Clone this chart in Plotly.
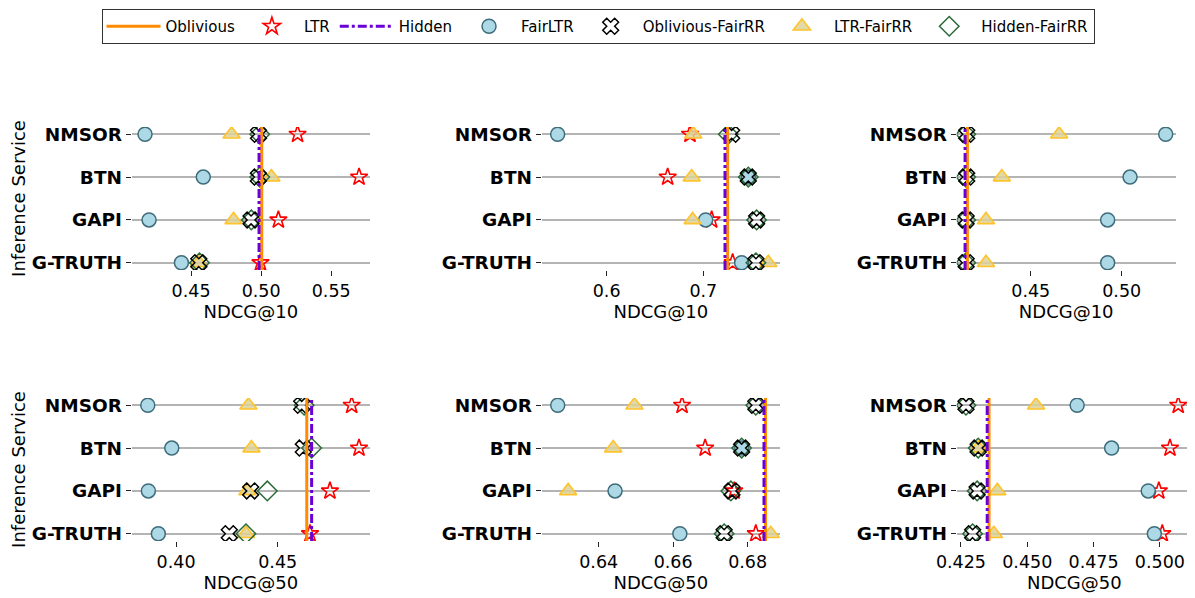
import plotly.graph_objects as go

# ---------------- data ----------------
categories = ["NMSOR", "BTN", "GAPI", "G-TRUTH"]
x_titles = ["NDCG@10", "NDCG@10", "NDCG@10", "NDCG@50", "NDCG@50", "NDCG@50"]

# vertical reference lines per panel (top-left, top-mid, top-right, bottom-left, bottom-mid, bottom-right)
oblivious = [0.5004, 0.7251, 0.4152, 0.4643, 0.6848, 0.4356]
hidden = [0.4985, 0.7224, 0.4139, 0.4667, 0.6844, 0.4349]

# per panel, values in category order NMSOR, BTN, GAPI, G-TRUTH
ltr = [
    [0.5260, 0.5699, 0.5123, 0.4995],
    [0.6862, 0.6631, 0.7086, 0.7303],
    [None, None, None, None],
    [0.4864, 0.4900, 0.4757, 0.4659],
    [0.6624, 0.6686, 0.6764, 0.6822],
    [0.5069, 0.5038, 0.4996, 0.5009],
]
fair_ltr = [
    [0.4171, 0.4587, 0.4200, 0.4431],
    [0.5493, 0.7465, 0.7024, 0.7396],
    [0.5242, 0.5046, 0.4923, 0.4923],
    [0.3861, 0.3979, 0.3864, 0.3913],
    [0.6290, 0.6784, 0.6444, 0.6618],
    [0.4688, 0.4818, 0.4956, 0.4979],
]
oblivious_fairrr = [
    [0.4981, 0.4980, 0.4928, 0.4555],
    [0.7293, 0.7465, 0.7551, 0.7544],
    [0.4148, 0.4148, 0.4145, 0.4145],
    [0.4618, 0.4626, 0.4367, 0.4262],
    [0.6822, 0.6784, 0.6758, 0.6737],
    [0.4269, 0.4315, 0.4311, 0.4294],
]
ltr_fairrr = [
    [0.4789, 0.5073, 0.4803, 0.4555],
    [0.6896, 0.6879, 0.6889, 0.7672],
    [0.4656, 0.4341, 0.4254, 0.4254],
    [0.4356, 0.4371, 0.4351, 0.4344],
    [0.6496, 0.6439, 0.6318, 0.6862],
    [0.4533, 0.4315, 0.4387, 0.4374],
]
hidden_fairrr = [
    [0.4990, 0.4990, 0.4930, 0.4560],
    [0.7258, 0.7465, 0.7551, 0.7544],
    [0.4143, 0.4143, 0.4143, 0.4143],
    [0.4630, 0.4667, 0.4449, 0.4344],
    [0.6822, 0.6784, 0.6755, 0.6737],
    [0.4269, 0.4315, 0.4311, 0.4294],
]

# ---------------- styling / layout ----------------
OFF = 8                      # page body margin of the html page
W, H = 1195 - OFF, 598 - OFF
FONT = "DejaVu Sans"
x_ranges = [
    [0.4076, 0.5777],
    [0.5328, 0.7793],
    [0.4093, 0.5297],
    [0.3782, 0.4954],
    [0.6247, 0.6887],
    [0.4234, 0.5121],
]
x_dticks = [0.05, 0.1, 0.05, 0.05, 0.02, 0.025]
x_formats = [".2f", ".1f", ".2f", ".2f", ".2f", ".3f"]
x_domains_px = [
    (131.7, 370), (541.7, 780), (956.7, 1175.7),
    (131.7, 370), (541.7, 780), (956.7, 1192),
]
y_domains_px = [(127, 270)] * 3 + [(398, 541)] * 3

ORANGE = "#ff8c00"
PURPLE = "#6a00d8"
markers = {
    "LTR": dict(symbol="star-open", size=13, color="#ff0000", line=dict(width=1.6, color="#ff0000")),
    "FairLTR": dict(symbol="circle", size=14, color="#add8e6", line=dict(width=1.5, color="#3e6c7a")),
    "Oblivious-FairRR": dict(symbol="x-open", size=14, color="#000000", line=dict(width=1.5, color="#000000")),
    "LTR-FairRR": dict(symbol="triangle-up", size=15, color="rgba(222,210,152,0.85)", line=dict(width=1.6, color="#ffc32b")),
    "Hidden-FairRR": dict(symbol="diamond-open", size=15, color="#2a6b38", line=dict(width=1.5, color="#2a6b38")),
}
series_data = {
    "LTR": ltr,
    "FairLTR": fair_ltr,
    "Oblivious-FairRR": oblivious_fairrr,
    "LTR-FairRR": ltr_fairrr,
    "Hidden-FairRR": hidden_fairrr,
}
legend_order = ["Oblivious", "LTR", "Hidden", "FairLTR", "Oblivious-FairRR", "LTR-FairRR", "Hidden-FairRR"]
draw_order = ["LTR", "FairLTR", "LTR-FairRR", "Hidden-FairRR", "Oblivious-FairRR"]

fig = go.Figure()

# legend entries (in legend order)
for name in legend_order:
    if name == "Oblivious":
        fig.add_trace(go.Scatter(x=[None], y=[None], mode="lines", name=name, legendgroup=name,
                                 line=dict(color=ORANGE, width=3)))
    elif name == "Hidden":
        fig.add_trace(go.Scatter(x=[None], y=[None], mode="lines", name=name, legendgroup=name,
                                 line=dict(color=PURPLE, width=3, dash="dashdot")))
    else:
        fig.add_trace(go.Scatter(x=[None], y=[None], mode="markers", name=name, legendgroup=name,
                                 marker=markers[name]))

# the actual marks
for p in range(6):
    xa = "x" if p == 0 else f"x{p+1}"
    ya = "y" if p == 0 else f"y{p+1}"
    for name in draw_order:
        fig.add_trace(go.Scatter(
            x=series_data[name][p], y=categories, mode="markers", name=name,
            marker=markers[name], xaxis=xa, yaxis=ya, legendgroup=name,
            showlegend=False,
        ))

shapes = []
for p in range(6):
    xref = "x" if p == 0 else f"x{p+1}"
    yref = ("y" if p == 0 else f"y{p+1}") + " domain"
    shapes.append(dict(type="line", xref=xref, yref=yref, x0=oblivious[p], x1=oblivious[p], y0=0, y1=1,
                       line=dict(color=ORANGE, width=3), layer="above"))
    shapes.append(dict(type="line", xref=xref, yref=yref, x0=hidden[p], x1=hidden[p], y0=0, y1=1,
                       line=dict(color=PURPLE, width=3, dash="dashdot"), layer="above"))

layout = dict(
    width=W, height=H,
    margin=dict(l=0, r=0, t=0, b=0),
    paper_bgcolor="white", plot_bgcolor="white",
    font=dict(family=FONT, color="black"),
    shapes=shapes,
    legend=dict(orientation="h", x=(598 - OFF) / W, y=1 - (9 - OFF) / H, xanchor="center", yanchor="top",
                bordercolor="#333333", borderwidth=1, bgcolor="white",
                font=dict(size=15, family=FONT), itemwidth=54),
)

for p in range(6):
    k = "" if p == 0 else str(p + 1)
    x0, x1 = x_domains_px[p]
    yt, yb = y_domains_px[p]
    layout[f"xaxis{k}"] = dict(
        domain=[(x0 - OFF) / W, min(1.0, (x1 - OFF) / W)], anchor=f"y{k}", range=x_ranges[p], automargin=False,
        dtick=x_dticks[p], tick0=0, tickformat=x_formats[p],
        showgrid=False, zeroline=False, showline=False,
        ticks="outside", ticklen=5, tickwidth=1.2, tickcolor="#222",
        tickfont=dict(size=17.5, family=FONT),
        title=dict(text=x_titles[p], font=dict(size=18, family=FONT), standoff=4),
    )
    layout[f"yaxis{k}"] = dict(
        domain=[1 - (yb - OFF) / H, 1 - (yt - OFF) / H], anchor=f"x{k}", type="category", automargin=False,
        categoryorder="array", categoryarray=categories[::-1],
        range=[-0.17, 3.17],
        showgrid=True, gridcolor="#b4b4b4", gridwidth=1.5,
        zeroline=False, showline=False,
        ticks="outside", ticklen=5, tickwidth=1.2, tickcolor="#222",
        tickfont=dict(size=18.5, family=FONT, weight="bold"),
        title=dict(text="Inference Service" if p in (0, 3) else "",
                   font=dict(size=18, family=FONT), standoff=8),
    )

fig.update_layout(**layout)
fig.write_html("out.html")
